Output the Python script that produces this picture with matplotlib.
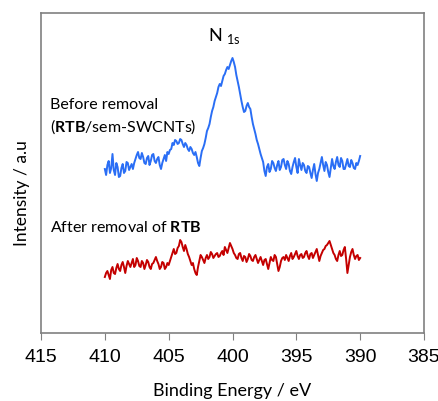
import numpy as np
import matplotlib
matplotlib.use("Agg")
import matplotlib.pyplot as plt

# binding energy axis (eV), 410 -> 390 in 0.1 eV steps
energy = np.linspace(410, 390, 201)

# N1s before removal (RTB/sem-SWCNTs), arbitrary units
before = [164, 158, 168, 172, 160, 165, 179, 163, 158, 170, 166, 156, 157, 165, 169, 160, 162, 171, 170, 163,
          166, 169, 164, 170, 174, 178, 181, 175, 174, 180, 176, 170, 169, 175, 177, 168, 172, 178, 179, 172,
          170, 174, 176, 168, 164, 170, 174, 178, 172, 181, 179, 183, 184, 190, 188, 193, 192, 189, 190, 194,
          193, 189, 186, 190, 188, 184, 182, 186, 184, 180, 178, 181, 176, 170, 167, 175, 182, 185, 189, 195,
          202, 205, 209, 216, 222, 226, 232, 236, 240, 246, 249, 247, 252, 257, 259, 263, 266, 264, 268, 272,
          275, 271, 266, 258, 252, 246, 239, 232, 226, 221, 222, 227, 230, 226, 224, 216, 209, 204, 199, 193,
          189, 184, 179, 175, 171, 162, 157, 166, 169, 161, 164, 172, 170, 165, 162, 168, 172, 163, 166, 173,
          174, 168, 164, 172, 169, 162, 159, 166, 171, 175, 166, 160, 174, 168, 163, 170, 168, 162, 160, 167,
          166, 160, 155, 163, 169, 159, 152, 160, 164, 170, 176, 168, 162, 171, 168, 161, 156, 165, 174, 167,
          164, 171, 176, 168, 166, 175, 172, 164, 164, 169, 174, 167, 166, 173, 170, 165, 164, 170, 168, 172,
          177]

# after removal of RTB
after = [56, 60, 62, 58, 54, 63, 66, 60, 59, 65, 69, 64, 62, 68, 71, 66, 60, 67, 72, 69,
         66, 70, 74, 66, 68, 75, 72, 67, 66, 72, 70, 64, 68, 73, 71, 66, 64, 69, 70, 73,
         76, 72, 69, 64, 66, 71, 70, 64, 66, 70, 68, 72, 76, 80, 84, 79, 80, 85, 87, 93,
         91, 86, 82, 88, 84, 79, 76, 72, 68, 70, 64, 60, 58, 66, 72, 78, 76, 73, 70, 75,
         78, 74, 76, 81, 79, 75, 77, 79, 80, 76, 77, 80, 82, 78, 86, 83, 80, 85, 90, 87,
         84, 80, 78, 75, 74, 79, 80, 75, 72, 77, 76, 71, 74, 79, 77, 73, 72, 76, 78, 74,
         70, 73, 76, 72, 68, 73, 74, 69, 64, 70, 76, 73, 72, 78, 76, 69, 62, 66, 72, 75,
         76, 73, 78, 75, 72, 77, 80, 74, 76, 79, 82, 77, 74, 78, 79, 75, 76, 80, 82, 77,
         74, 79, 80, 75, 78, 81, 84, 78, 72, 77, 80, 83, 84, 87, 88, 90, 92, 88, 84, 80,
         78, 74, 72, 78, 82, 77, 78, 83, 86, 74, 60, 68, 76, 81, 84, 78, 74, 77, 78, 73,
         75]

xticks = [415, 410, 405, 400, 395, 390, 385]

plt.rcParams['mathtext.fontset'] = 'custom'
plt.rcParams['mathtext.rm'] = 'Lato'
plt.rcParams['mathtext.bf'] = 'Lato:bold'

fig = plt.figure(figsize=(4.39, 4.02), dpi=100)
ax = fig.add_axes([41 / 439, 68 / 402, 383 / 439, 320 / 402])

ax.plot(energy, before, color="#2a6ef5", lw=1.4)
ax.plot(energy, after, color="#c40000", lw=1.4)

ax.set_xlim(415, 385)
ax.set_ylim(0, 320)
ax.set_xticks(xticks)
ax.set_xticklabels([str(t) for t in xticks], fontsize=14, family="Liberation Sans")
ax.set_yticks([])
ax.tick_params(axis="x", direction="out", length=5, color="#808080", pad=6)
for s in ax.spines.values():
    s.set_color("#808080")
    s.set_linewidth(1.2)

ax.set_xlabel("Binding Energy / eV", fontsize=13, family="Lato", labelpad=12)
ax.set_ylabel("Intensity / a.u", fontsize=12.5, family="Lato")
ax.yaxis.set_label_coords(-0.028, 0.44)

ax.text(0.48, 0.93, r"N $_{\mathrm{1s}}$", transform=ax.transAxes, fontsize=13,
        family="Lato", ha="center", va="center")
ax.text(0.024, 0.716, "Before removal", transform=ax.transAxes, fontsize=11.5,
        family="Lato", va="center")
ax.text(0.024, 0.648, r"($\mathbf{RTB}$/sem-SWCNTs)", transform=ax.transAxes,
        fontsize=11.5, family="Lato", va="center")
ax.text(0.024, 0.334, r"After removal of $\mathbf{RTB}$", transform=ax.transAxes,
        fontsize=11.5, family="Lato", va="center")

plt.savefig("out.png", dpi=100)
